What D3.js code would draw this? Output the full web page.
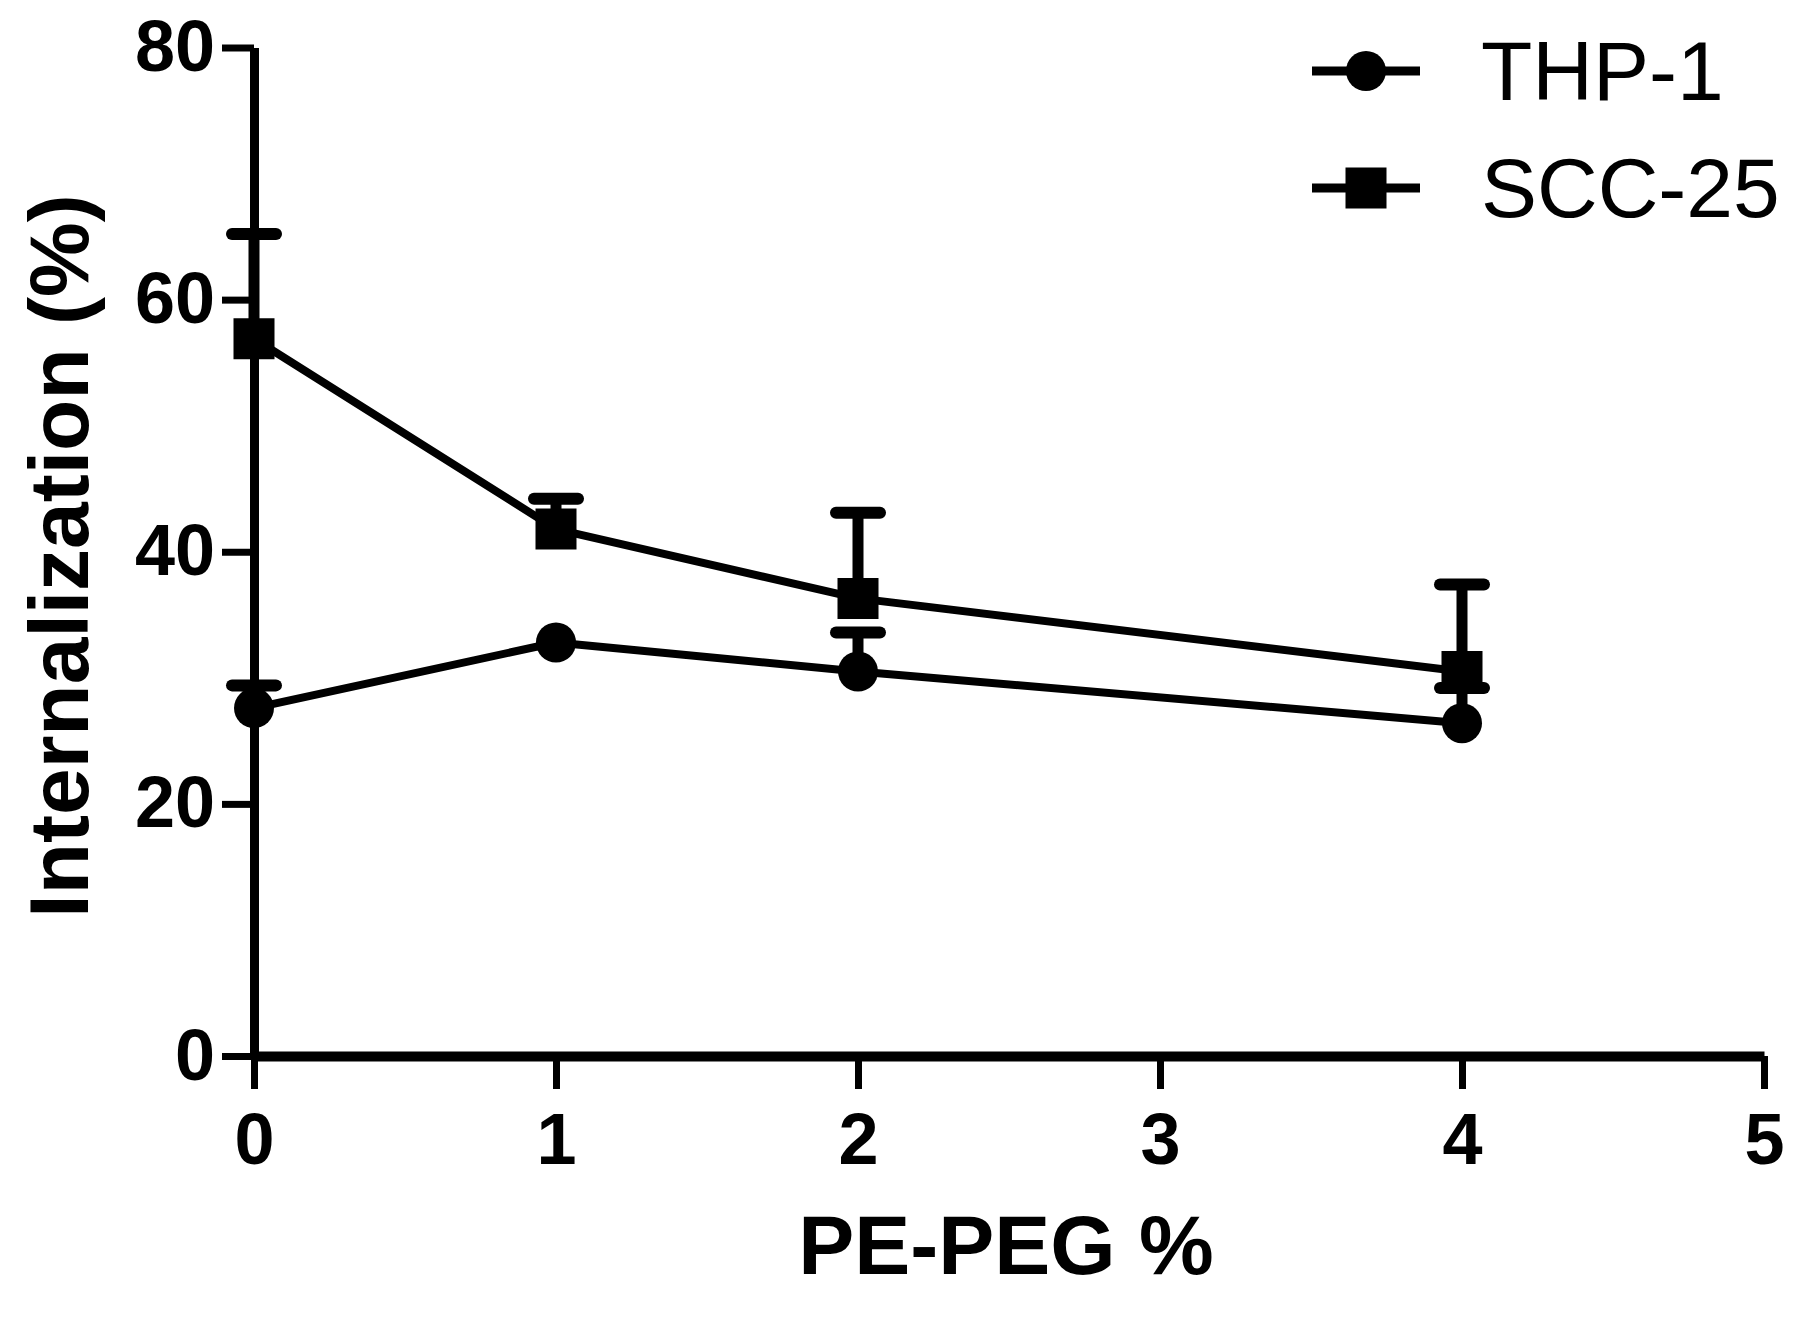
<!DOCTYPE html>
<html>
<head>
<meta charset="utf-8">
<script src="https://cdn.jsdelivr.net/npm/d3@7"></script>
<style>
  body { margin: 0; background: #fff; }
  svg { display: block; }
  .tick text { font-family: "Liberation Sans", Arial, sans-serif; font-weight: bold; }
</style>
</head>
<body>
<div id="chart"></div>
<script>
// data
const peg = [0, 1, 2, 4];
const thp1 = [27.6, 32.8, 30.5, 26.4];
const thp1Err = [1.8, 0, 3.1, 2.8];
const scc25 = [56.9, 41.8, 36.3, 30.5];
const scc25Err = [8.3, 2.4, 6.8, 6.9];
const xTicks = [0, 1, 2, 3, 4, 5];
const yTicks = [0, 20, 40, 60, 80];
const seriesNames = ['THP-1', 'SCC-25'];

let width = 1811,
    height = 1318;

let svg = d3.select('#chart')
  .append('svg')
  .attr('width', width)
  .attr('height', height);

svg.append('rect')
  .attr('width', width)
  .attr('height', height)
  .attr('fill', '#fff');

// scales
let xScale = d3.scaleLinear()
  .domain([0, 5])
  .range([254, 1764]);

let yScale = d3.scaleLinear()
  .domain([0, 80])
  .range([1056, 47.5]);

// axes
let xAxis = svg.append('g')
  .attr('transform', `translate(0,${yScale(0)})`)
  .call(d3.axisBottom(xScale).tickValues(xTicks).tickFormat(d3.format('d'))
    .tickSize(33).tickSizeOuter(0).tickPadding(24));

xAxis.select('.domain').attr('stroke', '#000').attr('stroke-width', 10);
xAxis.selectAll('.tick line').attr('stroke', '#000').attr('stroke-width', 7);
xAxis.selectAll('.tick text').attr('font-size', 72).attr('fill', '#000');

let yAxis = svg.append('g')
  .attr('transform', `translate(${xScale(0)},0)`)
  .call(d3.axisLeft(yScale).tickValues(yTicks).tickFormat(d3.format('d'))
    .tickSize(32).tickSizeOuter(0).tickPadding(7));

yAxis.select('.domain').attr('stroke', '#000').attr('stroke-width', 9);
yAxis.selectAll('.tick line').attr('stroke', '#000').attr('stroke-width', 7);
yAxis.selectAll('.tick text').attr('font-size', 72).attr('fill', '#000');

// axis titles
svg.append('text')
  .attr('x', 1006)
  .attr('y', 1274)
  .attr('text-anchor', 'middle')
  .attr('font-family', '"Liberation Sans", Arial, sans-serif')
  .attr('font-weight', 'bold')
  .attr('font-size', 84)
  .text('PE-PEG %');

svg.append('text')
  .attr('transform', 'translate(88,556) rotate(-90)')
  .attr('text-anchor', 'middle')
  .attr('font-family', '"Liberation Sans", Arial, sans-serif')
  .attr('font-weight', 'bold')
  .attr('font-size', 84)
  .text('Internalization (%)');

// series
let series = [
  { name: seriesNames[0], values: thp1, err: thp1Err, symbol: d3.symbolCircle, size: Math.PI * 20 * 20 },
  { name: seriesNames[1], values: scc25, err: scc25Err, symbol: d3.symbolSquare, size: 41 * 41 }
];

let line = d3.line()
  .x(function(d) { return xScale(d[0]); })
  .y(function(d) { return yScale(d[1]); });

series.forEach(function(s) {
  let pts = peg.map(function(p, i) { return [p, s.values[i], s.err[i]]; });

  svg.append('path')
    .datum(pts)
    .attr('d', line)
    .attr('fill', 'none')
    .attr('stroke', '#000')
    .attr('stroke-width', 8)
    .attr('stroke-linejoin', 'round');

  // error bars (upward only)
  let eb = svg.append('g')
    .selectAll('g')
    .data(pts.filter(function(d) { return d[2] > 0; }))
    .enter()
    .append('g');

  eb.append('line')
    .attr('x1', function(d) { return xScale(d[0]); })
    .attr('x2', function(d) { return xScale(d[0]); })
    .attr('y1', function(d) { return yScale(d[1]); })
    .attr('y2', function(d) { return yScale(d[1] + d[2]); })
    .attr('stroke', '#000')
    .attr('stroke-width', 11);

  eb.append('line')
    .attr('x1', function(d) { return xScale(d[0]) - 22; })
    .attr('x2', function(d) { return xScale(d[0]) + 22; })
    .attr('y1', function(d) { return yScale(d[1] + d[2]); })
    .attr('y2', function(d) { return yScale(d[1] + d[2]); })
    .attr('stroke', '#000')
    .attr('stroke-width', 12)
    .attr('stroke-linecap', 'round');

  svg.append('g')
    .selectAll('path')
    .data(pts)
    .enter()
    .append('path')
    .attr('d', d3.symbol().type(s.symbol).size(s.size))
    .attr('transform', function(d) { return `translate(${xScale(d[0])},${yScale(d[1])})`; })
    .attr('fill', '#000');
});

// legend
let legend = svg.append('g')
  .selectAll('g')
  .data(series)
  .enter()
  .append('g')
  .attr('transform', function(d, i) { return `translate(0,${[71, 188][i]})`; });

legend.append('line')
  .attr('x1', 1312)
  .attr('x2', 1420)
  .attr('stroke', '#000')
  .attr('stroke-width', 9);

legend.append('path')
  .attr('d', function(d) { return d3.symbol().type(d.symbol).size(d.size)(); })
  .attr('transform', 'translate(1366,0)')
  .attr('fill', '#000');

legend.append('text')
  .attr('x', 1481)
  .attr('y', 29)
  .attr('font-family', '"Liberation Sans", Arial, sans-serif')
  .attr('font-size', 84)
  .attr('fill', '#000')
  .text(function(d) { return d.name; });
</script>
</body>
</html>
